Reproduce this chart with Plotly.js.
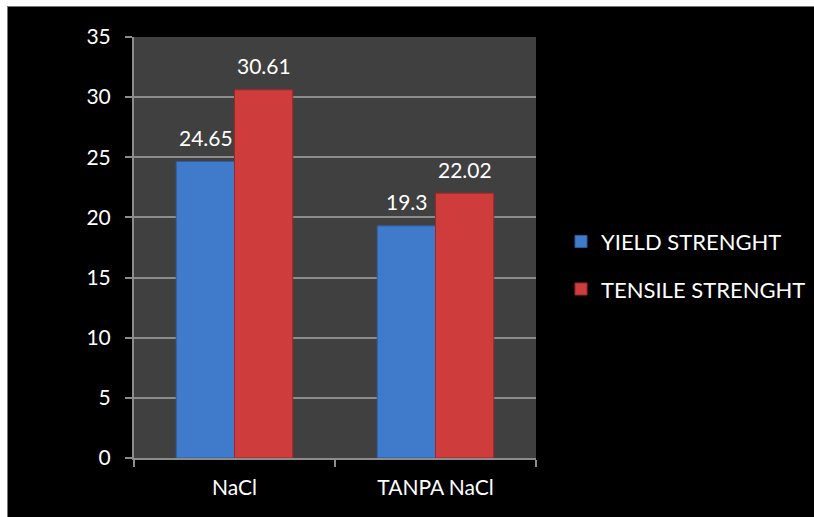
<!DOCTYPE html>
<html><head><meta charset="utf-8">
<script src="https://cdn.plot.ly/plotly-3.0.1.min.js"></script>
<style>
html,body{margin:0;padding:0;background:#ffffff;width:814px;height:517px;overflow:hidden;}
#wrap{position:absolute;left:7px;top:6px;width:807px;height:511px;border-left:1px solid #777;border-top:1px solid #777;background:#000;overflow:hidden;}
#chart{width:860px;height:510px;}
</style></head>
<body><div id="wrap"><div id="chart"></div></div>
<script>
const categories = ["NaCl", "TANPA NaCl"];
const yieldStrength = [24.65, 19.3];
const tensileStrength = [30.61, 22.02];
const seriesNames = ["YIELD STRENGHT", "TENSILE STRENGHT"];
const yTicks = [0, 5, 10, 15, 20, 25, 30, 35];

const font = "Lato, 'Open Sans', sans-serif";
const traces = [
  {type:'bar', name:seriesNames[0], legendgroup:'a', x:categories, y:yieldStrength,
   marker:{color:'#3f7bca', line:{color:'#2d5c9c', width:1}}},
  {type:'bar', name:seriesNames[1], legendgroup:'b', x:categories, y:tensileStrength,
   marker:{color:'#cf3c3c', line:{color:'#9a2828', width:1}}}
];
const annotations = [];
[[yieldStrength, -29], [tensileStrength, 29]].forEach(([vals, dx]) => {
  vals.forEach((v, i) => annotations.push({
    x: categories[i], y: v, xref:'x', yref:'y', text:String(v), showarrow:false,
    xshift: dx, yshift: 24, font:{size:21, color:'#ffffff', family:font}
  }));
});
// plot area: left 126, width 402 inside an 860-wide paper
const layout = {
  width:860, height:510,
  paper_bgcolor:'#000000', plot_bgcolor:'#404040',
  margin:{l:126, r:10, t:30, b:59},
  barmode:'group', bargap:0.42, bargroupgap:0,
  font:{family:font, color:'#ffffff', size:21},
  annotations: annotations,
  xaxis:{type:'category', domain:[0, 402/724], automargin:false, showgrid:false, showline:true, linecolor:'#8c8c8c', linewidth:2,
    ticks:'outside', tickcolor:'#8c8c8c', ticklen:7, tickwidth:2, tickson:'boundaries',
    ticklabelstandoff:10, tickfont:{size:21, color:'#ffffff', family:font}},
  yaxis:{range:[0,35], tickvals:yTicks, automargin:false, showgrid:true, gridcolor:'#8c8c8c', gridwidth:2,
    showline:true, linecolor:'#8c8c8c', linewidth:2, ticks:'outside', tickcolor:'#8c8c8c',
    ticklen:7, tickwidth:2, zeroline:false, ticklabelstandoff:10,
    tickfont:{size:21, color:'#ffffff', family:font}},
  legend:{x:(553-126)/724, xanchor:'left', y:0.457, yanchor:'middle', traceorder:'grouped',
    font:{size:22, color:'#ffffff', family:font},
    bgcolor:'rgba(0,0,0,0)', tracegroupgap:16, itemwidth:30},
  showlegend:true
};
Plotly.newPlot('chart', traces, layout, {displayModeBar:false, staticPlot:true});
</script></body></html>
